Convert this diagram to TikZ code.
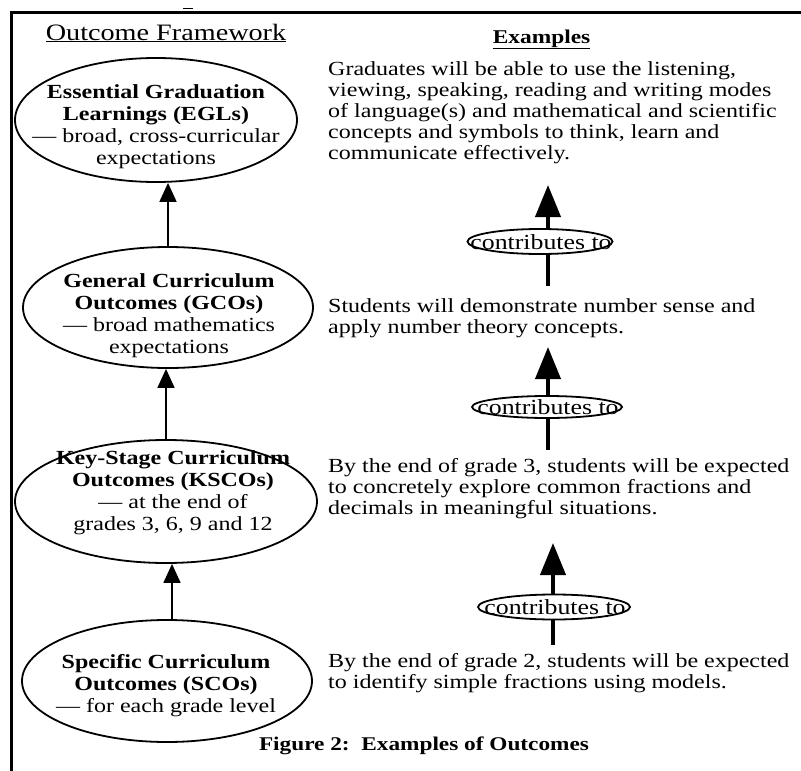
\documentclass[tikz,border=0pt]{standalone}
\usepackage{fontspec}
\setmainfont{Liberation Serif}[FakeStretch=1.2]
\usetikzlibrary{shapes.geometric,arrows.meta}
\begin{document}
\begin{tikzpicture}[x=1pt,y=-1pt,
  oval/.style={draw,ellipse,line width=1.8pt,inner sep=0pt},
  ovaltext/.style={align=center,inner sep=0pt,font=\fontsize{20}{22}\selectfont},
  exampletext/.style={align=left,anchor=base west,inner sep=0pt,font=\fontsize{20}{21}\selectfont},
  thinarr/.style={line width=1.8pt,-{Triangle[width=17pt,length=19pt]}},
  bigarr/.style={line width=4pt,-{Triangle[width=25pt,length=32pt]}},
  stubline/.style={line width=4pt},
  cttext/.style={inner sep=0pt,font=\fontsize{21.5}{22}\selectfont}
]
\useasboundingbox (0,0) rectangle (801,771);
% frame
\draw[line width=2.5pt] (801,12.5) -- (11.5,12.5) -- (11.5,771);
\draw[line width=1pt] (183,8) -- (193,8);

% headers
\node[anchor=base,inner sep=0pt,font=\fontsize{23.5}{24}\selectfont] (h1) at (166,40) {\underline{Outcome Framework}};
\node[anchor=base,inner sep=0pt,font=\fontsize{19.5}{22}\selectfont] (h2) at (541.5,43) {\textbf{\underline{Examples}}};

% left ellipses
\node[oval,minimum width=282pt,minimum height=124pt] (egl) at (156,120) {};
\node[ovaltext] (eglt) at (156,126.5) {\textbf{Essential Graduation}\\\textbf{Learnings (EGLs)}\\--- broad, cross-curricular\\expectations};

\node[oval,minimum width=290pt,minimum height=121pt] (gco) at (168,307.5) {};
\node[ovaltext] (gcot) at (169,315.5) {\textbf{General Curriculum}\\\textbf{Outcomes (GCOs)}\\--- broad mathematics\\expectations};

\node[oval,minimum width=302pt,minimum height=123pt] (ksco) at (166,501.5) {};
\node[ovaltext] (kscot) at (173,493) {\textbf{Key-Stage Curriculum}\\\textbf{Outcomes (KSCOs)}\\--- at the end of\\grades 3, 6, 9 and 12};

\node[oval,minimum width=290pt,minimum height=122pt] (sco) at (167,681) {};
\node[ovaltext] (scot) at (166,685.5) {\textbf{Specific Curriculum}\\\textbf{Outcomes (SCOs)}\\--- for each grade level};

% left arrows
\draw[thinarr] (gco.north) -- (gco.north |- egl.south);
\draw[thinarr] (ksco.north) -- (ksco.north |- gco.south);
\coordinate (a3) at ([xshift=5pt]sco.north);
\draw[thinarr] (a3) -- (a3 |- ksco.south);

% examples (anchor is the baseline of the last line)
\node[exampletext] (ex1) at (328,159) {Graduates will be able to use the listening,\\viewing, speaking, reading and writing modes\\of language(s) and mathematical and scientific\\concepts and symbols to think, learn and\\communicate effectively.};
\node[exampletext] (ex2) at (328,333) {Students will demonstrate number sense and\\apply number theory concepts.};
\node[exampletext] (ex3) at (328,514) {By the end of grade 3, students will be expected\\to concretely explore common fractions and\\decimals in meaningful situations.};
\node[exampletext] (ex4) at (328,688) {By the end of grade 2, students will be expected\\to identify simple fractions using models.};

% contributes to
\node[oval,minimum width=145pt,minimum height=25pt] (ct1) at (540,241.5) {};
\node[cttext] (ct1t) at (541,242) {contributes to};
\node[oval,minimum width=150pt,minimum height=22pt] (ct2) at (547,407) {};
\node[cttext] (ct2t) at (548,407) {contributes to};
\node[oval,minimum width=152pt,minimum height=25pt] (ct3) at (554,607) {};
\node[cttext] (ct3t) at (555,607) {contributes to};

\coordinate (tip1) at (548,185);
\coordinate (end1) at (548,286);
\coordinate (tip2) at (548,347);
\coordinate (end2) at (548,450);
\coordinate (tip3) at (553,543);
\coordinate (end3) at (553,645);
\draw[bigarr] (ct1.north -| tip1) -- (tip1);
\draw[stubline] (ct1.south -| tip1) -- (end1);
\draw[bigarr] (ct2.north -| tip2) -- (tip2);
\draw[stubline] (ct2.south -| tip2) -- (end2);
\draw[bigarr] (ct3.north -| tip3) -- (tip3);
\draw[stubline] (ct3.south -| tip3) -- (end3);

% caption
\node[anchor=base,inner sep=0pt,font=\fontsize{19.4}{22}\selectfont\bfseries] (cap) at (424,750) {Figure 2:\ \ Examples of Outcomes};
\end{tikzpicture}
\end{document}
